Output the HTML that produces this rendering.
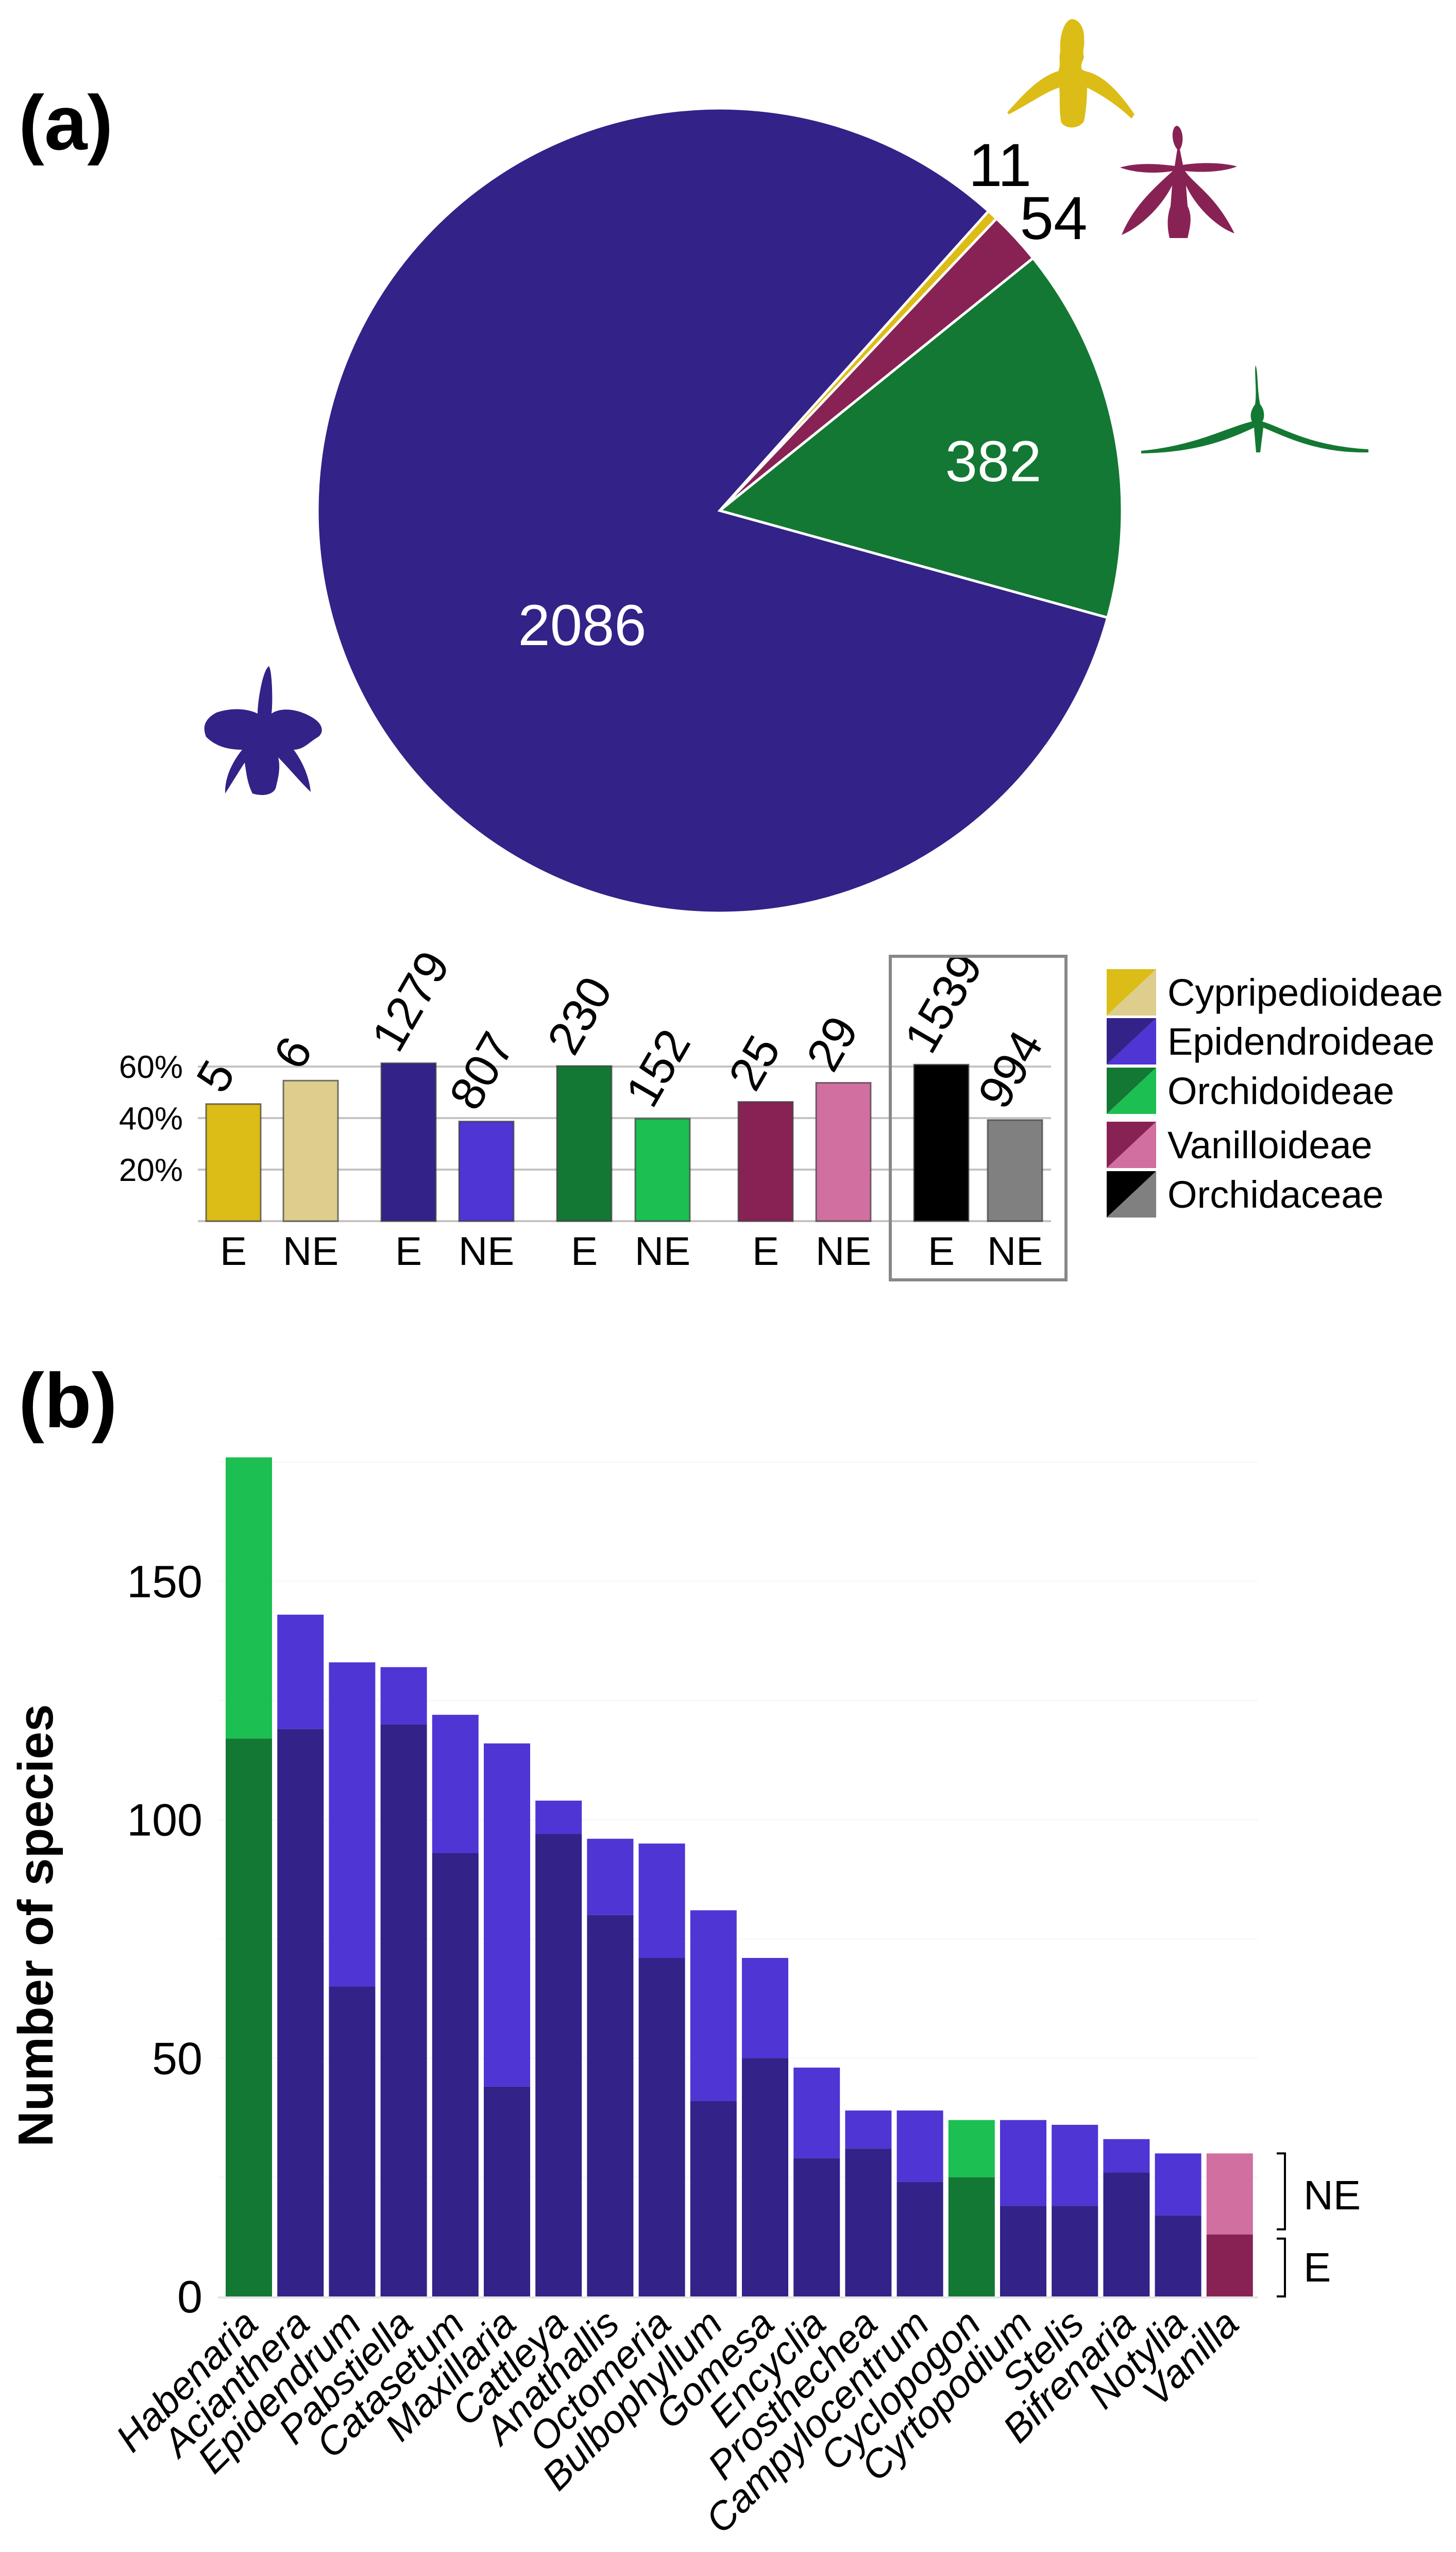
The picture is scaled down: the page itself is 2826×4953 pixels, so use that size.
<!DOCTYPE html>
<html><head><meta charset="utf-8"><style>
html,body{margin:0;padding:0;background:#fff;}
svg{display:block;}
text{font-family:"Liberation Sans",Arial,sans-serif;}
</style></head><body>
<svg id="fig" xmlns="http://www.w3.org/2000/svg" width="2826" height="4953" viewBox="0 0 2826 4953">
<rect width="2826" height="4953" fill="#fff"/>
<text x="36" y="290" font-family="DejaVu Sans" font-weight="bold" font-size="150">(a)</text>
<g id="pie"></g>
<g fill="#dcbc17">
<path d="M2080,37 C2095,37 2105,55 2104,75 C2106,90 2100,100 2104,110 C2102,120 2096,125 2100,135 L2106,138 C2140,145 2170,175 2202,222 L2196,230 C2170,205 2140,185 2110,170 C2110,190 2108,215 2104,235 C2095,250 2070,252 2060,238 C2055,215 2058,190 2056,170 C2030,178 2000,200 1958,222 L1955,218 C1985,185 2015,150 2054,138 C2060,125 2054,115 2058,100 C2056,70 2065,40 2080,37 Z"/>
</g>
<g fill="#882255">
<path d="M2284,244 C2295,246 2300,275 2290,290 L2296,320 C2330,315 2370,315 2401,323 C2380,332 2340,336 2300,332 C2320,360 2360,380 2396,453 C2360,440 2320,400 2302,360 L2305,400 C2315,420 2310,440 2305,462 L2270,462 C2265,440 2265,420 2272,400 L2275,360 C2255,400 2215,440 2177,456 C2200,400 2240,365 2276,332 C2240,338 2200,335 2174,325 C2210,315 2245,318 2280,322 L2285,290 C2272,275 2274,246 2284,244 Z"/>
</g>
<g fill="#137833">
<path d="M2437,709 C2442,720 2440,760 2446,785 C2455,795 2455,812 2450,818 C2490,830 2540,865 2656,872 L2656,878 C2560,880 2500,850 2452,830 L2446,878 L2438,878 L2434,830 C2380,855 2320,878 2215,880 L2215,875 C2320,865 2380,830 2430,818 C2425,808 2428,795 2436,785 C2440,760 2434,720 2437,709 Z"/>
</g>
<g fill="#332288">
<path d="M522,1293 C528,1300 530,1360 527,1385 C545,1372 580,1375 610,1395 C625,1405 630,1420 618,1430 C600,1440 590,1455 570,1455 C585,1475 600,1505 603,1537 C585,1520 560,1490 540,1470 C545,1490 540,1510 535,1530 C528,1545 505,1545 490,1540 C480,1520 478,1500 475,1480 C465,1495 450,1520 437,1540 C436,1510 450,1480 470,1455 C445,1455 420,1450 400,1430 C392,1410 398,1395 420,1383 C450,1373 480,1375 500,1385 C500,1360 510,1300 522,1293 Z"/>
</g>
<g id="pct"></g>
<g id="legend"></g>
<rect x="1728" y="1856" width="341" height="628" fill="none" stroke="#888" stroke-width="6"/>
<text x="36" y="2770" font-family="DejaVu Sans" font-weight="bold" font-size="150">(b)</text>
<g id="genus"></g>
</svg>
<script>
const NS="http://www.w3.org/2000/svg";
function mk(tag,attrs,parent,txt){const e=document.createElementNS(NS,tag);for(const k in attrs)e.setAttribute(k,attrs[k]);if(txt!==undefined)e.textContent=txt;parent.appendChild(e);return e;}

const pieLabels=["Cypripedioideae","Vanilloideae","Orchidoideae","Epidendroideae"];
const pieValues=[11,54,382,2086];
const pieColors=["#dcbc17","#882255","#137833","#332288"];
const subfamilies=["Cypripedioideae","Epidendroideae","Orchidoideae","Vanilloideae","Orchidaceae"];
const endemicCounts=[5,1279,230,25,1539];
const nonEndemicCounts=[6,807,152,29,994];
const totals=[11,2086,382,54,2533];
const pctTicks=[20,40,60];
const darkCols=["#dcbc17","#332288","#137833","#882255","#000000"];
const lightCols=["#dece8d","#4f35d4","#1bbf52","#d06fa0","#808080"];
const genera=["Habenaria","Acianthera","Epidendrum","Pabstiella","Catasetum","Maxillaria","Cattleya","Anathallis","Octomeria","Bulbophyllum","Gomesa","Encyclia","Prosthechea","Campylocentrum","Cyclopogon","Cyrtopodium","Stelis","Bifrenaria","Notylia","Vanilla"];
const genusTotal=[176,143,133,132,122,116,104,96,95,81,71,48,39,39,37,37,36,33,30,30];
const genusEndemic=[117,119,65,120,93,44,97,80,71,41,50,29,31,24,25,19,19,26,17,13];
const genusGroup=[2,1,1,1,1,1,1,1,1,1,1,1,1,1,2,1,1,1,1,3];
const genusTicks=[0,50,100,150];

(function(){
 const g=document.getElementById('pie');
 const cx=1397,cy=991,r=781;
 const tot=pieValues.reduce((a,b)=>a+b,0);
 let a=41.9*Math.PI/180;
 const pt=(ang,rr)=>[cx+rr*Math.sin(ang),cy-rr*Math.cos(ang)];
 const labelPos=[[1941,321],[2045,424],[1928,894],[1130,1212]];
 pieValues.forEach((v,i)=>{
  const da=v/tot*2*Math.PI;
  const p0=pt(a,r),p1=pt(a+da,r);
  const p=mk('path',{d:`M${cx},${cy} L${p0[0]},${p0[1]} A${r},${r} 0 ${da>Math.PI?1:0} 1 ${p1[0]},${p1[1]} Z`,fill:pieColors[i],stroke:'#fff','stroke-width':5},g);
  
  
  const big=v/tot>0.1;
  const lp=labelPos[i];
  const t=mk('text',{x:lp[0],y:lp[1]+40,'text-anchor':'middle','font-size':big?112:118,fill:big?'#fff':'#000'},g,String(v));
  
  
  a+=da;
 });
})();

(function(){
 const g=document.getElementById('pct');
 const base=2370, yp=p=>base-p*5;
 const x0=384,x1=2040;
 pctTicks.forEach(p=>{
  const l=mk('line',{x1:x0,x2:x1,y1:yp(p),y2:yp(p),stroke:'#c9c2c2','stroke-width':4},g);
  
  
  const t=mk('text',{x:355,y:yp(p)+22,'text-anchor':'end','font-size':62,fill:'#000','font-family':'DejaVu Sans'},g,p+'%');
  
  
 });
 const bl=mk('line',{x1:x0,x2:x1,y1:base,y2:base,stroke:'#c9c2c2','stroke-width':4},g);
 
 
 const groupX=[400,740,1081,1433,1774];
 const nePos=[550,891,1233,1584,1917];
 subfamilies.forEach((s,i)=>{
  [[endemicCounts[i],darkCols[i],groupX[i],'E'],[nonEndemicCounts[i],lightCols[i],nePos[i],'NE']].forEach(([c,col,x,lab])=>{
   const pct=c/totals[i]*100, top=yp(pct), w=106;
   const r=mk('rect',{x:x,y:top,width:w,height:base-top,fill:col,stroke:'#3a3a3a','stroke-opacity':0.7,'stroke-width':3},g);
   
   
   const cx=x+w/2;
   const lx=cx-20, ly=top-16;
   const t=mk('text',{x:lx,y:ly,'font-size':92,fill:'#000','font-family':'DejaVu Sans',transform:`rotate(-60 ${lx} ${ly})`},g,String(c));
   
   
   const e=mk('text',{x:cx,y:2455,'text-anchor':'middle','font-size':78,fill:'#000','font-family':'DejaVu Sans'},g,lab);
   
   
  });
 });
})();

(function(){
 const g=document.getElementById('legend');
 const ys=[1881,1976,2072,2177,2273];
 subfamilies.forEach((s,i)=>{
  const x=2148,y=ys[i],w=96,h=90;
  const a=mk('polygon',{points:`${x},${y} ${x+w},${y} ${x},${y+h}`,fill:darkCols[i]},g);
  
  
  const b=mk('polygon',{points:`${x+w},${y} ${x+w},${y+h} ${x},${y+h}`,fill:lightCols[i]},g);
  
  
  const t=mk('text',{x:2266,y:y+h/2+26,'font-size':74,fill:'#000','font-family':'DejaVu Sans'},g,s);
  
  
 });
})();

(function(){
 const g=document.getElementById('genus');
 const base=4457, k=9.253, y=v=>base-v*k;
 const bx=i=>438+i*100.2, bw=90;
 const dk=["","#332288","#137833","#882255"], lt=["","#4f35d4","#1bbf52","#d06fa0"];
 for(let v=25;v<=175;v+=25){
  const l=mk('line',{x1:423,x2:2442,y1:y(v),y2:y(v),stroke:'#f8f8f8','stroke-width':3},g);
  
  
 }
 const ax=mk('line',{x1:423,x2:2442,y1:base+2,y2:base+2,stroke:'#e4e4e4','stroke-width':4},g);
 
 
 genusTicks.forEach(v=>{
  const t=mk('text',{x:393,y:y(v)+31,'text-anchor':'end','font-size':88,fill:'#000'},g,String(v));
  
  
 });
 genera.forEach((n,i)=>{
  const x=bx(i), gi=genusGroup[i];
  const ne=mk('rect',{x:x,y:y(genusTotal[i]),width:bw,height:(genusTotal[i]-genusEndemic[i])*k,fill:lt[gi]},g);
  
  
  const e=mk('rect',{x:x,y:y(genusEndemic[i]),width:bw,height:genusEndemic[i]*k,fill:dk[gi]},g);
  
  
  const tx=x+bw/2+22, ty=4515;
  const t=mk('text',{x:tx,y:ty,'text-anchor':'end','font-size':76,'font-style':'italic',fill:'#000',transform:`rotate(-45 ${tx} ${ty})`},g,n);
  
  
 });
 const yt=mk('text',{x:0,y:0,'text-anchor':'middle','font-size':96,'font-weight':'bold','font-family':'DejaVu Sans',fill:'#000',transform:'translate(102 3737) rotate(-90)'},g,'Number of species');
 
 
 const last=genera.length-1;
 const br=(y1,y2,name)=>{const p=mk('path',{d:`M2478,${y1} L2494,${y1} L2494,${y2} L2478,${y2}`,fill:'none',stroke:'#000','stroke-width':4},g);
  
  };
 br(y(genusTotal[last]),y(genusEndemic[last])-10,'ne-bracket');
 br(y(genusEndemic[last])+8,base,'e-bracket');
 const t1=mk('text',{x:2530,y:4288,'font-size':80,fill:'#000'},g,'NE');
 
 
 const t2=mk('text',{x:2530,y:4428,'font-size':80,fill:'#000'},g,'E');
 
 
})();
</script>
</body></html>
